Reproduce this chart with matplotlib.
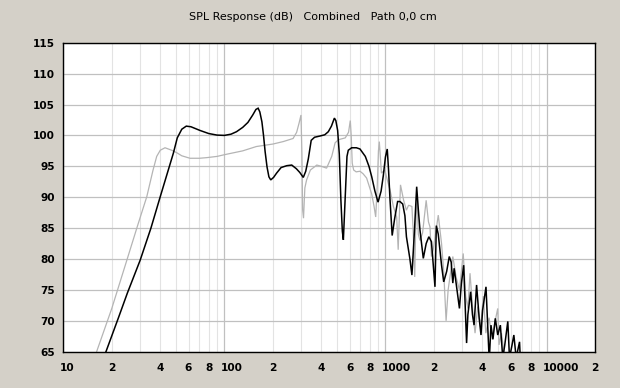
import matplotlib
matplotlib.use("Agg")
import matplotlib.pyplot as plt
from matplotlib.transforms import blended_transform_factory, ScaledTranslation

# ---- data ----
black_freq = [18.4, 22, 25, 30, 35, 40, 45, 48.2, 51, 54.4, 58, 62, 70.6, 80, 90, 100, 110, 119,
              130, 140, 150, 157, 162, 166, 171, 175, 179, 184, 189, 194, 202, 211, 225, 244,
              262, 280, 294, 309, 320, 332, 346, 363, 392, 420, 442, 462, 482, 492, 505, 517,
              529, 540, 548, 557, 566, 577, 588, 617, 660, 695, 750, 790, 822, 860, 900, 940,
              970, 1000, 1026, 1045, 1067, 1101, 1140, 1190, 1230, 1280, 1321, 1350, 1419,
              1460, 1510, 1563, 1600, 1638, 1718, 1790, 1860, 1930, 1980, 2030, 2070, 2128,
              2230, 2300, 2400, 2490, 2560, 2620, 2670, 2750, 2880, 2960, 3060, 3120, 3190,
              3250, 3380, 3470, 3550, 3680, 3820, 3920, 4010, 4210, 4300, 4410, 4520, 4650,
              4810, 4980, 5170, 5350, 5500, 5750, 5890, 6100, 6270, 6480, 6800, 6900, 7200]
black_db = [65.0, 70.5, 74.5, 79.8, 85.0, 90.1, 94.5, 97.1, 99.6, 101.0, 101.5, 101.4, 100.8,
            100.3, 100.05, 100.0, 100.2, 100.6, 101.3, 102.1, 103.3, 104.2, 104.4, 103.8, 102.2,
            100.0, 97.4, 94.9, 93.3, 92.8, 93.2, 93.9, 94.8, 95.1, 95.2, 94.6, 94.0, 93.2, 94.2,
            96.2, 99.2, 99.7, 99.9, 100.1, 100.6, 101.5, 102.8, 102.4, 100.8, 97.0, 89.5, 84.5,
            83.1, 87.5, 92.2, 96.6, 97.6, 98.0, 98.0, 97.8, 96.6, 95.0, 93.3, 91.0, 89.2, 91.0,
            93.5, 96.5, 97.8, 94.5, 89.7, 83.8, 86.5, 89.3, 89.3, 88.9, 87.0, 83.6, 80.0, 77.4,
            84.0, 91.7, 88.0, 84.7, 80.1, 82.5, 83.6, 82.8, 79.0, 75.5, 85.4, 84.0, 79.0, 76.3,
            78.0, 80.4, 79.5, 76.1, 78.5, 76.0, 72.0, 76.0, 79.0, 73.0, 66.4, 71.0, 74.7, 71.0,
            69.3, 75.8, 70.4, 67.7, 71.7, 75.5, 70.0, 63.5, 69.3, 67.0, 70.4, 67.7, 69.3, 64.0,
            66.0, 69.9, 64.0, 66.0, 67.7, 64.0, 66.6, 63.0, 60.0]

gray_freq = [16.1, 20, 24.8, 29, 33, 36, 38, 40, 42.8, 47.1, 50.6, 54.4, 61.2, 70, 77.6, 90,
             101, 130, 158, 200, 232, 267, 281, 291, 299, 303, 306, 310, 316, 324, 342, 375,
             400, 431, 464, 487, 510, 563, 590, 605, 613, 622, 635, 658, 695, 726, 764, 822,
             850, 870, 890, 905, 916, 930, 944, 990, 1041, 1067, 1120, 1174, 1200, 1220, 1240,
             1297, 1350, 1392, 1460, 1490, 1520, 1540, 1570, 1600, 1638, 1700, 1790, 1850,
             1890, 1930, 1980, 2128, 2230, 2300, 2380, 2450, 2620, 2750, 2880, 3040, 3150,
             3250, 3350, 3500, 3600, 3740, 3900, 4050, 4200, 4400, 4600, 4800, 4980, 5070,
             5250, 5500, 6000]
gray_db = [65.0, 72.0, 79.8, 85.5, 90.1, 94.3, 96.6, 97.6, 98.0, 97.6, 97.2, 96.7, 96.3, 96.3,
           96.4, 96.6, 96.9, 97.5, 98.2, 98.6, 99.0, 99.5, 100.5, 102.0, 103.3, 97.0, 88.0, 86.6,
           91.5, 92.8, 94.4, 95.2, 95.0, 94.7, 96.6, 98.8, 99.3, 99.6, 100.5, 102.4, 100.0, 95.5,
           94.4, 94.1, 94.2, 93.8, 93.1, 90.5, 88.5, 86.8, 92.0, 97.5, 99.0, 96.5, 93.9, 94.4,
           92.2, 91.2, 88.5, 86.8, 81.5, 87.0, 92.0, 89.5, 87.9, 88.7, 88.5, 84.0, 77.1, 85.0,
           90.0, 84.0, 83.0, 84.2, 89.5, 86.0, 85.2, 80.4, 81.5, 87.1, 82.5, 78.0, 70.0, 75.0,
           80.4, 77.0, 75.0, 80.9, 74.0, 72.0, 77.7, 71.0, 68.0, 72.3, 69.0, 74.0, 68.0, 70.5,
           67.0, 70.0, 72.0, 66.1, 68.0, 64.0, 60.0]

x_ticks = [10, 20, 40, 60, 80, 100, 200, 400, 600, 800, 1000, 2000, 4000, 6000, 8000, 10000, 20000]
x_labels = ["10", "2", "4", "6", "8", "100", "2", "4", "6", "8", "1000", "2", "4", "6", "8", "10000", "2"]
y_ticks = [65, 70, 75, 80, 85, 90, 95, 100, 105, 110, 115]
title_text = "SPL Response (dB)   Combined   Path 0,0 cm"

# ---- figure ----
BG = "#D4D0C8"
fig = plt.figure(figsize=(6.2, 3.88), dpi=100, facecolor=BG)
ax = fig.add_axes([63.3 / 620, 1 - 351.7 / 388, (595 - 63.3) / 620, (351.7 - 42.7) / 388])
ax.set_facecolor("white")
ax.set_xscale("log")
ax.set_xlim(10, 20000)
ax.set_ylim(65, 115)

# grid
major = [10, 100, 1000, 10000]
minor = [m * d for d in [10, 100, 1000, 10000] for m in range(2, 10)] + [20000]
for v in minor:
    ax.axvline(v, color="#E3E3E3", lw=0.8, zorder=0.5)
for v in major:
    ax.axvline(v, color="#C0C0C0", lw=0.9, zorder=0.6)
for v in y_ticks:
    ax.axhline(v, color="#C0C0C0", lw=0.9, zorder=0.6)

ax.plot(gray_freq, gray_db, color="#B4B4B4", lw=0.9, zorder=2, solid_joinstyle="miter")
ax.plot(black_freq, black_db, color="black", lw=1.1, zorder=3, solid_joinstyle="miter")

for s in ax.spines.values():
    s.set_color("black")
    s.set_linewidth(1.0)
    s.set_zorder(5)

ax.set_xticks([])
ax.set_xticks([], minor=True)
ax.set_yticks(y_ticks)
ax.set_yticklabels([str(v) for v in y_ticks], fontsize=7.6, fontweight="bold",
                   family="DejaVu Sans")
ax.tick_params(axis="y", length=0, pad=6.0)

trans = blended_transform_factory(ax.transData, ax.transAxes) + \
    ScaledTranslation(-3.8 / 100, -11.5 / 100, fig.dpi_scale_trans)
for t, lab in zip(x_ticks, x_labels):
    ax.text(t, 0, lab, transform=trans, ha="left", va="top", fontsize=7.6,
            fontweight="bold", family="DejaVu Sans", clip_on=False)

fig.text(313 / 620, 1 - 17 / 388, title_text, ha="center", va="center", fontsize=8,
         family="DejaVu Sans", color="black")

fig.savefig("out.png", dpi=100, facecolor=BG)
